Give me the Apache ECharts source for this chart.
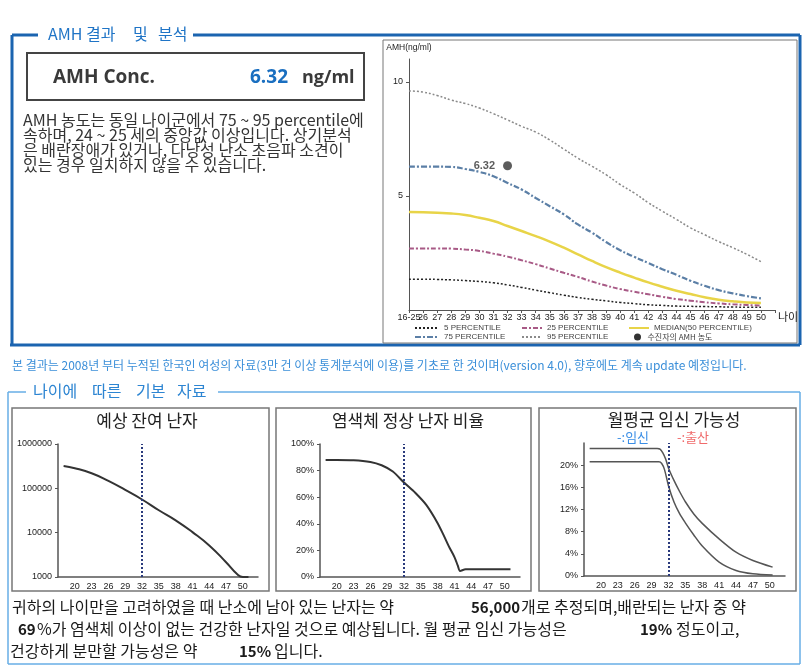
<!DOCTYPE html>
<html><head><meta charset="utf-8">
<script src="https://cdn.jsdelivr.net/npm/echarts@6/dist/echarts.min.js"></script>
<style>html,body{margin:0;padding:0;background:#fff}#c{width:805px;height:670px}</style>
</head><body><div id="c"></div>
<script>
// ---------- main AMH percentile chart ----------
const amhAgeLabels = ['16-25','26','27','28','29','30','31','32','33','34','35','36','37','38','39','40','41','42','43','44','45','46','47','48','49','50',''];
const p95 = [9.6,9.55,9.4,9.2,9.05,8.85,8.6,8.33,8.05,7.8,7.45,7.05,6.65,6.3,5.93,5.5,5.13,4.7,4.33,3.97,3.6,3.3,3.0,2.73,2.44,2.12];
const p75 = [6.28,6.28,6.28,6.27,6.18,6.05,5.86,5.57,5.28,4.91,4.55,4.19,3.75,3.39,2.98,2.62,2.33,2.06,1.79,1.54,1.28,1.06,0.87,0.73,0.61,0.51];
const p50 = [4.29,4.28,4.26,4.23,4.16,4.04,3.9,3.68,3.46,3.24,3.0,2.73,2.44,2.15,1.88,1.64,1.42,1.21,1.02,0.84,0.7,0.56,0.45,0.38,0.33,0.31];
const p25 = [2.7,2.7,2.7,2.69,2.65,2.59,2.47,2.34,2.18,2.01,1.82,1.63,1.45,1.25,1.07,0.92,0.8,0.69,0.58,0.48,0.41,0.34,0.29,0.25,0.22,0.19];
const p5  = [1.35,1.35,1.34,1.32,1.29,1.25,1.19,1.1,0.99,0.87,0.76,0.65,0.55,0.47,0.4,0.33,0.28,0.23,0.2,0.17,0.16,0.15,0.14,0.13,0.12,0.12];
const amhYTicks = [5, 10];
const patientAgeLabel = '32';
const patientAmh = 6.32;
const currentAge = 32;

// ---------- small charts ----------
const smallXTicks = [20,23,26,29,32,35,38,41,44,47,50];
const eggAges   = [18,20,23,26,29,32,35,38,41,44,47,49,50,51];
const eggCounts = [320000,285000,219000,147000,92000,56000,32000,19000,10300,5150,2150,1150,1000,1000];
const normAges  = [18,20,23,26,28,30,32,34,36,38,39,40,41,41.6,42,43,51];
const normPct   = [88,88,87.8,86.5,84,79.3,71,63.3,54,40.5,32,23,15,8.5,4.5,5.8,5.8];
const pregAges  = [18,30,30.5,31,31.5,32,33,34,35,36.5,38,41,44,47,50.5];
const pregPct   = [23,23,22.9,22.2,21.1,19.5,17.2,15.2,13.4,11.2,9.5,6.7,4.3,2.8,1.6];
const birthAges = [18,30.3,30.8,31.3,32,33,34,35,36.5,38,41,44,47,50.5];
const birthPct  = [20.6,20.6,20.3,19.2,16.3,13.3,11.2,9.6,7.4,5.4,2.5,1.0,0.4,0.2];
const pregYTicks = [0,4,8,12,16,20];

const KR = '"Noto Sans CJK KR", sans-serif';
const AR = '"Liberation Sans", Arial, sans-serif';
const zip = (a, b) => a.map((v, i) => [v, b[i]]);

function t(x, y, text, size, color, extra) {
  return {type:'text', x, y, style: Object.assign({
    text, fontSize:size, fontFamily:KR, fill:color,
    verticalAlign:'middle', textVerticalAlign:'middle', align:'left', textAlign:'left'
  }, extra || {})};
}
function ln(x1,y1,x2,y2,color,w){ return {type:'line', shape:{x1,y1,x2,y2}, style:{stroke:color, lineWidth:w}}; }
function rc(x,y,w,h,color,lw){ return {type:'rect', shape:{x,y,width:w,height:h}, style:{fill:null, stroke:color, lineWidth:lw}}; }

const B1 = '#1b64b0', B2 = '#67aee6';
const graphics = [
  // top frame
  ln(12,35,38,35,B1,3), ln(193,35,800,35,B1,3), ln(12,35,12,345,B1,3), ln(10,345,800,345,B1,3), ln(800,35,800,345,B1,3),
  t(48,34,'AMH',16,'#1f74c6'), t(86,34,'결과',16,'#1f74c6'), t(133,34,'및',16,'#1f74c6'), t(158,34,'분석',16,'#1f74c6'),
  rc(27,53,337,47,'#444',2),
  t(53,78,'AMH Conc.',19,'#3a3a3a',{fontFamily:'"Open Sans", sans-serif', fontWeight:'bold'}),
  t(250,78,'6.32',19,'#1a6fc0',{fontFamily:'"Open Sans", sans-serif', fontWeight:'bold'}),
  t(302,78,'ng/ml',18,'#3a3a3a',{fontFamily:'"Open Sans", sans-serif', fontWeight:'bold'}),
  t(23,112,'AMH 농도는 동일 나이군에서 75 ~ 95 percentile에\n속하며, 24 ~ 25 세의 중앙값 이상입니다. 상기분석\n은 배란장애가 있거나, 다낭성 난소 초음파 소견이\n있는 경우 일치하지 않을 수 있습니다.',16,'#333',{verticalAlign:'top', textVerticalAlign:'top', lineHeight:15}),
  rc(383,40,414,303,'#777',1),
  t(12,365,'본 결과는 2008년 부터 누적된 한국인 여성의 자료(3만 건 이상 통계분석에 이용)를 기초로 한 것이며(version 4.0), 향후에도 계속 update 예정입니다.',12,'#3b8fd9'),
  // bottom frame
  ln(8,392,26,392,B2,1.5), ln(218,392,800,392,B2,1.5), ln(8,392,8,664,B2,1.5), ln(8,664,800,664,B2,1.5), ln(800,392,800,664,B2,1.5),
  t(33,391,'나이에',16,'#2d85d2'), t(92,391,'따른',16,'#2d85d2'), t(136,391,'기본',16,'#2d85d2'), t(177,391,'자료',16,'#2d85d2'),
  rc(12,408,257,183,'#777',1.5), rc(276,408,255,183,'#777',1.5), rc(539,408,257,183,'#777',1.5),
  t(147,421,'예상 잔여 난자',17,'#222',{align:'center', textAlign:'center'}),
  t(408,421,'염색체 정상 난자 비율',17,'#222',{align:'center', textAlign:'center'}),
  t(674,420,'월평균 임신 가능성',17,'#222',{align:'center', textAlign:'center'}),
  t(617,437,'-:임신',13,'#3a8ee6'), t(677,437,'-:출산',13,'#f06a6a'),
  // bottom summary text
  t(12,607,'귀하의 나이만을 고려하였을 때 난소에 남아 있는 난자는 약',16,'#1a1a1a'),
  t(471,607,'56,000',15,'#1a1a1a',{fontWeight:'bold'}),
  t(521,607,'개로 추정되며,배란되는 난자 중 약',16,'#1a1a1a'),
  t(18,629,'69',15,'#1a1a1a',{fontWeight:'bold'}),
  t(37,629,'%가 염색체 이상이 없는 건강한 난자일 것으로 예상됩니다. 월 평균 임신 가능성은',16,'#1a1a1a'),
  t(640,629,'19%',15,'#1a1a1a',{fontWeight:'bold'}),
  t(676,629,'정도이고,',16,'#1a1a1a'),
  t(10,651,'건강하게 분만할 가능성은 약',16,'#1a1a1a'),
  t(239,651,'15%',15,'#1a1a1a',{fontWeight:'bold'}),
  t(274,651,'입니다.',16,'#1a1a1a')
];

const smallX = (gi) => ({
  type:'value', gridIndex:gi, min:17, max:52.7,
  axisLine:{lineStyle:{color:'#555', width:1.5}},
  axisTick:{show:false}, splitLine:{show:false},
  axisLabel:{customValues:smallXTicks, fontSize:9, color:'#222', fontFamily:AR, margin:5}
});
const smallYBase = {
  axisLine:{show:true, lineStyle:{color:'#555', width:1.5}},
  axisTick:{show:true, length:3, lineStyle:{color:'#555'}},
  splitLine:{show:false},
};
const mark = {silent:true, symbol:'none', label:{show:false}, lineStyle:{type:'dotted', color:'#2a3a7c', width:2}, data:[{xAxis:currentAge}]};

const lineSeries = (name, data, color, width, type) => ({
  name, type:'line', xAxisIndex:0, yAxisIndex:0, data, smooth:true, symbol:'none',
  lineStyle:{color, width, type}, itemStyle:{color}, z:3
});

const legendBase = {selectedMode:false, itemHeight:8, textStyle:{fontSize:8, color:'#444', fontFamily:AR}, padding:0, itemStyle:{opacity:0}};

const option = {
  animation:false,
  graphic:{elements:graphics},
  legend:[
    Object.assign({}, legendBase, {data:['5 PERCENTILE'], left:414, top:324, itemWidth:24}),
    Object.assign({}, legendBase, {data:['25 PERCENTILE'], left:521, top:324, itemWidth:20}),
    Object.assign({}, legendBase, {data:['MEDIAN(50 PERCENTILE)'], left:628, top:324, itemWidth:20}),
    Object.assign({}, legendBase, {data:['75 PERCENTILE'], left:414, top:333, itemWidth:24}),
    Object.assign({}, legendBase, {data:['95 PERCENTILE'], left:521, top:333, itemWidth:20}),
    Object.assign({}, legendBase, {data:[{name:'수진자의 AMH 농도', icon:'circle'}], left:634, top:333, itemWidth:10, itemHeight:7,
      itemStyle:{opacity:1}, textStyle:{fontSize:8, color:'#444', fontFamily:KR}})
  ],
  grid:[
    {left:409, top:59, width:366, height:251},
    {left:58, top:444, width:200, height:133},
    {left:320, top:444, width:200, height:133},
    {left:584, top:443, width:201, height:133}
  ],
  xAxis:[
    {type:'category', gridIndex:0, data:amhAgeLabels, boundaryGap:false,
     axisLine:{lineStyle:{color:'#555', width:1}},
     axisTick:{show:true, length:3, lineStyle:{color:'#555'}},
     axisLabel:{interval:0, fontSize:9, color:'#222', fontFamily:AR, margin:3},
     name:'나이', nameLocation:'end', nameGap:3,
     nameTextStyle:{fontSize:11, color:'#222', fontFamily:KR, verticalAlign:'top', padding:[1,0,0,0]}},
    smallX(1), smallX(2), smallX(3)
  ],
  yAxis:[
    {type:'value', gridIndex:0, min:0, max:11,
     axisLine:{show:true, lineStyle:{color:'#555', width:1}},
     axisTick:{show:true, length:3, customValues:amhYTicks, lineStyle:{color:'#555'}},
     axisLabel:{customValues:amhYTicks, fontSize:9, color:'#222', fontFamily:AR, margin:6},
     splitLine:{show:false},
     name:'AMH(ng/ml)', nameLocation:'end', nameGap:7,
     nameTextStyle:{fontSize:8.5, color:'#222', fontFamily:AR}},
    Object.assign({type:'log', logBase:10, gridIndex:1, min:1000, max:1000000,
     axisLabel:{formatter:(v)=>String(Math.round(v)), fontSize:9, color:'#222', fontFamily:AR, margin:6}}, smallYBase),
    Object.assign({type:'value', gridIndex:2, min:0, max:100, interval:20,
     axisLabel:{formatter:'{value}%', fontSize:9, color:'#222', fontFamily:AR, margin:6}}, smallYBase),
    Object.assign({type:'value', gridIndex:3, min:0, max:24,
     axisLabel:{customValues:pregYTicks, formatter:'{value}%', fontSize:9, color:'#222', fontFamily:AR, margin:6}}, smallYBase,
     {axisTick:{show:true, length:3, customValues:pregYTicks, lineStyle:{color:'#555'}}})
  ],
  series:[
    lineSeries('5 PERCENTILE', p5, '#222', 1.5, [2,2]),
    lineSeries('25 PERCENTILE', p25, '#a85a86', 2, [5,2,2,2]),
    lineSeries('MEDIAN(50 PERCENTILE)', p50, '#e8d448', 2.5, 'solid'),
    lineSeries('75 PERCENTILE', p75, '#5b7fa6', 2.2, [6,2,2,2]),
    lineSeries('95 PERCENTILE', p95, '#8a8a8a', 1.5, [2,2]),
    {name:'수진자의 AMH 농도', type:'scatter', xAxisIndex:0, yAxisIndex:0, data:[[patientAgeLabel, patientAmh]],
     symbolSize:9, itemStyle:{color:'#333'}, z:5,
     label:{show:true, position:'left', distance:8, formatter:(p)=>p.value[1].toFixed(2), fontSize:11, fontWeight:'bold', color:'#333', fontFamily:AR}},
    {type:'line', xAxisIndex:1, yAxisIndex:1, data:zip(eggAges, eggCounts), smooth:true, symbol:'none',
     lineStyle:{color:'#333', width:2}, markLine:mark},
    {type:'line', xAxisIndex:2, yAxisIndex:2, data:zip(normAges, normPct), smooth:0.3, symbol:'none',
     lineStyle:{color:'#333', width:2}, markLine:mark},
    {type:'line', xAxisIndex:3, yAxisIndex:3, data:zip(pregAges, pregPct), smooth:0.3, symbol:'none',
     lineStyle:{color:'#555', width:1.5}, markLine:mark},
    {type:'line', xAxisIndex:3, yAxisIndex:3, data:zip(birthAges, birthPct), smooth:0.3, symbol:'none',
     lineStyle:{color:'#555', width:1.5}}
  ]
};
const chart = echarts.init(document.getElementById('c'), null, {renderer:'canvas'});
chart.setOption(option);
</script>
</body></html>
